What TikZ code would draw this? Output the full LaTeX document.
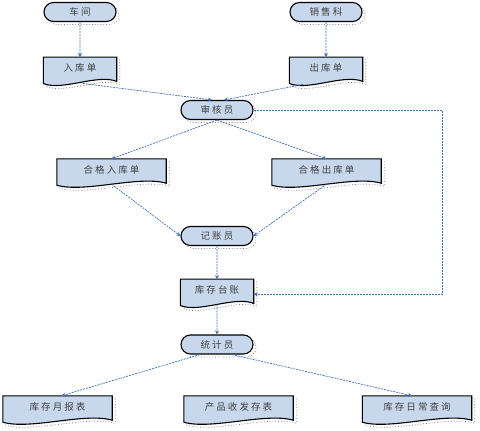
\documentclass[tikz,border=0pt]{standalone}
\usepackage{fontspec}
\newfontfamily\cjk[LetterSpace=22]{Noto Sans CJK SC}
\usepackage{xcolor}
\usetikzlibrary{arrows.meta, positioning, shapes.misc, shadows, backgrounds, calc}

\definecolor{boxfill}{RGB}{200,216,236}
\definecolor{linkblue}{RGB}{62,110,180}

% outline of a document box (flat top, wavy bottom), shifted by #2
\newcommand{\docpath}[2]{($(#1.north west)+#2$) -- ($(#1.north east)+#2$) -- ($(#1.south east)+(0,-2)+#2$) .. controls ($(#1.south)!0.5!(#1.south east)+(0,6)+#2$) and ($(#1.south west)!0.5!(#1.south)+(0,-12)+#2$) .. ($(#1.south west)+(0,-4)+#2$) -- cycle}
\newcommand{\docframe}[1]{%
  \begin{pgfonlayer}{background}
    \draw[draw=gray, dotted, thick] \docpath{#1}{(3,-3)};
    \draw[fill=boxfill, draw=black, line width=1.1pt] \docpath{#1}{(0,0)};
  \end{pgfonlayer}}

\begin{document}
\begin{tikzpicture}[
        x=1pt, y=1pt,
        term/.style={rounded rectangle, draw, line width=1.1pt, fill=boxfill, minimum width=72pt, minimum height=19pt, inner sep=0pt, font=\cjk\fontsize{9.5}{11}\selectfont, text=black!75,
            general shadow={draw=gray, dotted, thick, shadow xshift=3pt, shadow yshift=-3pt}},
        docbox/.style={rectangle, minimum width=#1, minimum height=22pt, inner sep=0pt, font=\cjk\fontsize{9.5}{11}\selectfont, text=black!75},
        docbox/.default=73pt,
        arr/.style={-{Stealth[length=4pt, width=4pt]}, draw=linkblue, line width=0.7pt, dash pattern=on 2pt off 1pt},
    ]
        \useasboundingbox (0,0) rectangle (480,-431);

        % Top: sources and slips
        \node[term] (chejian) at (80,-12) {车间};
        \node[term] (xiaoshou) at (326,-12) {销售科};
        \node[docbox, below=35pt of chejian] (rukudan) {入库单};
        \node[docbox, below=35pt of xiaoshou] (chukudan) {出库单};

        % Checking
        \node[term] (shenhe) at (217,-110) {审核员};
        \node[docbox=109pt] (hegeru) at (111.5,-170) {合格入库单};
        \node[docbox=109pt] (hegechu) at (326.5,-170) {合格出库单};

        % Bookkeeping
        \node[term] (jizhang) at (217,-236) {记账员};
        \node[docbox, below=33pt of jizhang] (taizhang) {库存台账};
        \node[term, below=33pt of taizhang] (tongji) {统计员};

        % Reports
        \node[docbox=109pt] (yuebao) at (57.5,-407) {库存月报表};
        \node[docbox=109pt] (shoufa) at (238.5,-407) {产品收发存表};
        \node[docbox=109pt] (richang) at (417,-407) {库存日常查询};

        \foreach \d in {rukudan, chukudan, hegeru, hegechu, taizhang, yuebao, shoufa, richang}
            \docframe{\d};

        % Arrows
        \draw[arr] (chejian) -- (rukudan);
        \draw[arr] (xiaoshou) -- (chukudan);
        \draw[arr] ([xshift=3pt, yshift=-4pt]rukudan.south) -- ([xshift=-5pt]shenhe.north);
        \draw[arr] ([xshift=-23pt, yshift=-5pt]chukudan.south) -- ([xshift=7pt]shenhe.north);
        \draw[arr] (shenhe.south) -- (hegeru.north);
        \draw[arr] (shenhe.south) -- (hegechu.north);
        \draw[arr] ([yshift=-3pt]hegeru.south) -- (jizhang.west);
        \draw[arr] ([yshift=-3pt]hegechu.south) -- (jizhang.east);
        \draw[arr] (jizhang) -- (taizhang);
        \draw[arr] ([yshift=-3pt]taizhang.south) -- (tongji);
        \draw[arr] ([xshift=-17pt]tongji.south) -- ([xshift=4pt]yuebao.north);
        \draw[arr] ([xshift=15pt]tongji.south) -- ([xshift=-5pt]richang.north);

        % Feedback to the ledger
        \coordinate (fbx) at (442,0);
        \draw[arr] (shenhe.east) -- (shenhe.east -| fbx) |- ([yshift=-4pt]taizhang.east);
    \end{tikzpicture}
\end{document}
